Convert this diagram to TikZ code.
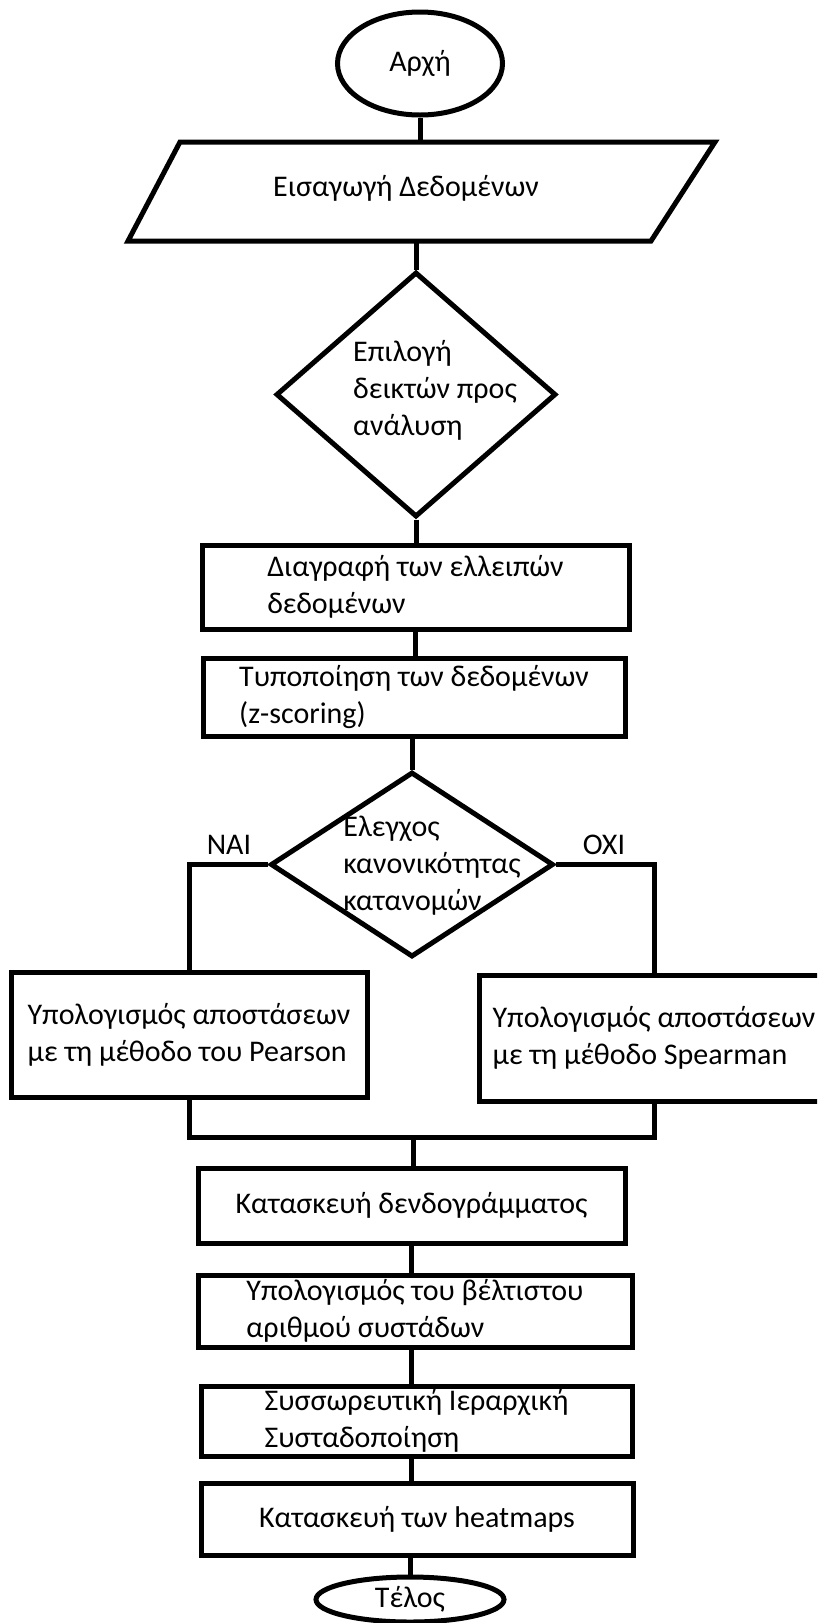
\documentclass[tikz,border=0pt]{standalone}
\usepackage{fontspec}
\setmainfont{Carlito}
\usetikzlibrary{shapes.geometric,calc}
\begin{document}
\begin{tikzpicture}[x=1pt,y=-1pt,
  every node/.style={font=\fontsize{30}{37}\selectfont, inner sep=0pt},
  wire/.style={line width=5pt},
  procbox/.style={draw, line width=5pt, rectangle, align=left},
  decision/.style={draw, line width=5pt, diamond},
  terminal/.style={draw, line width=5pt, ellipse},
  caption/.style={align=left}
]
% canvas
\useasboundingbox (0,0) rectangle (817,1623);
\clip (0,0) rectangle (817,1623);
\fill[white] (0,0) rectangle (817,1623);

% start
\node[terminal, minimum width=165pt, minimum height=103pt] (start) at (420,63.5) {Αρχή};

% data input (parallelogram)
\coordinate (inTL) at (180,142);
\coordinate (inTR) at (715,142);
\coordinate (inBR) at (651,241);
\coordinate (inBL) at (128,241);
\coordinate (inTop) at (420,142);
\coordinate (inBot) at (416,241);
\draw[wire] (inTL) -- (inTR) -- (inBR) -- (inBL) -- cycle;
\node (input) at (406,188) {Εισαγωγή Δεδομένων};

% selection of indicators
\node[decision, minimum width=280pt, minimum height=245pt] (sel) at (416,394.5) {};
\node[caption] (seltext) at (435,390) {Επιλογή\\δεικτών προς\\ανάλυση};

% preprocessing
\node[procbox, minimum width=427pt, minimum height=84pt] (drop) at (415.5,587) {Διαγραφή των ελλειπών\\δεδομένων};
\node[procbox, minimum width=422pt, minimum height=78pt] (zscore) at (414,697) {Τυποποίηση των δεδομένων\\(z-scoring)};

% normality test
\node[decision, minimum width=283pt, minimum height=185pt] (norm) at (412,864.5) {};
\node[caption] (normtext) at (432,866) {Ελεγχος\\κανονικότητας\\κατανομών};
\node (yes) at (229,845) {ΝΑΙ};
\node (no) at (604,845) {ΟΧΙ};

% distance computations
\node[procbox, minimum width=356pt, minimum height=125pt] (pearson) at (189,1034.5) {Υπολογισμός αποστάσεων\\με τη μέθοδο του Pearson};
\node[procbox, minimum width=350pt, minimum height=126pt] (spearman) at (654,1038) {Υπολογισμός αποστάσεων\\με τη μέθοδο Spearman};
\coordinate (join) at (413,1137);

% clustering steps
\node[procbox, minimum width=427pt, minimum height=75pt] (dendro) at (411.5,1205.5) {Κατασκευή δενδογράμματος};
\node[procbox, minimum width=434pt, minimum height=72pt] (optk) at (415,1311) {Υπολογισμός του βέλτιστου\\αριθμού συστάδων};
\node[procbox, minimum width=431pt, minimum height=70pt] (hclust) at (416.5,1421) {Συσσωρευτική Ιεραρχική\\Συσταδοποίηση};
\node[procbox, minimum width=432pt, minimum height=72pt] (heat) at (417,1519) {Κατασκευή των heatmaps};

% end
\node[terminal, minimum width=188pt, minimum height=45pt] (stop) at (410,1599.5) {Τέλος};

% connectors
\draw[wire] (start.south) -- (inTop);
\draw[wire] (inBot) -- (sel.north);
\draw[wire] (sel.south) -- (sel.south |- drop.north);
\draw[wire] (drop.south) -- (drop.south |- zscore.north);
\draw[wire] (norm.north |- zscore.south) -- (norm.north);
\draw[wire] (norm.west) -| (pearson.north);
\draw[wire] (norm.east) -| (spearman.north);
\draw[wire] (pearson.south) -- (pearson.south |- join) -- (spearman.south |- join) -- (spearman.south);
\draw[wire] (join) -- (join |- dendro.north);
\draw[wire] (dendro.south) -- (dendro.south |- optk.north);
\draw[wire] (dendro.south |- optk.south) -- (dendro.south |- hclust.north);
\draw[wire] (dendro.south |- hclust.south) -- (dendro.south |- heat.north);
\draw[wire] (stop.north |- heat.south) -- (stop.north);
\end{tikzpicture}
\end{document}
